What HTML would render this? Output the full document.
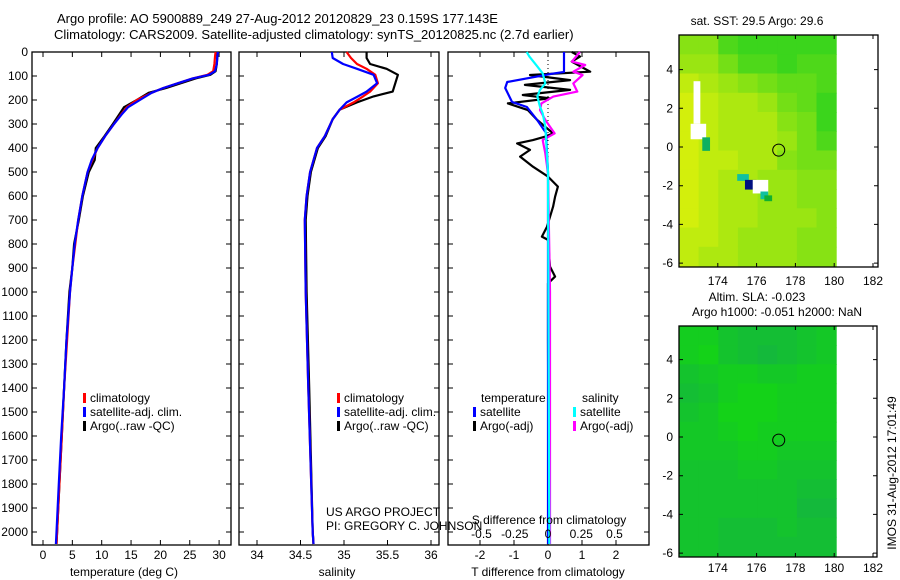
<!DOCTYPE html>
<html><head><meta charset="utf-8"><style>
html,body{margin:0;padding:0;background:#fff;}
svg{display:block;font-family:"Liberation Sans",sans-serif;}
text{font-size:12px;fill:#000;}
</style></head><body>
<svg id="fig" width="900" height="580" viewBox="0 0 900 580" xmlns="http://www.w3.org/2000/svg">
<text x="57" y="23" style="font-size:13px">Argo profile: AO 5900889_249 27-Aug-2012 20120829_23 0.159S 177.143E</text>
<text x="54" y="39" style="font-size:13px">Climatology: CARS2009. Satellite-adjusted climatology: synTS_20120825.nc (2.7d earlier)</text>
<g id="g"></g>
</svg>
<script>
// ---- data ----
const tDepth=[0,20,50,80,95,110,130,150,170,200,230,260,300,350,400,450,500,600,700,800,900,1000,1200,1400,1600,1800,2000,2050];
const tClim=[29.4,29.3,29.2,29.0,28,25.5,23,20.5,18.5,16,14.3,13.3,12.1,10.6,9.3,8.4,7.6,6.7,6.0,5.5,5.0,4.6,4.1,3.6,3.2,2.8,2.4,2.3];
const tSat=[29.8,29.7,29.6,29.3,28.3,25.5,23,20.5,18.5,16.5,14.5,13.4,12.1,10.6,9.3,8.3,7.6,6.7,6.0,5.4,5.0,4.6,4.0,3.6,3.1,2.7,2.3,2.2];
const tArgo=[29.6,29.7,29.6,29.4,28.5,26,23.5,21,18,16,13.8,13,11.9,10.5,9.0,8.8,7.8,6.8,6.1,5.3,5.0,4.5,4.0,3.6,3.2,2.8,2.4,2.3];
const sDepth=[0,25,50,70,95,130,165,185,210,240,280,350,400,500,600,700,1000,1400,2000,2050];
const sClim=[35.03,35.08,35.15,35.26,35.36,35.39,35.30,35.22,35.11,34.95,34.87,34.78,34.69,34.61,34.57,34.55,34.56,34.59,34.64,34.65];
const sSat=[34.86,34.87,34.99,35.15,35.34,35.38,35.26,35.16,35.03,34.95,34.87,34.78,34.69,34.61,34.57,34.55,34.56,34.59,34.64,34.65];
const sArgo=[35.26,35.26,35.30,35.49,35.62,35.59,35.56,35.34,35.15,34.95,34.87,34.79,34.70,34.62,34.58,34.56,34.57,34.60,34.64,34.65];
const dtSatDepth=[0,83,90,125,150,208,229,283,337,500,1000,2050];
const dtSat=[0.47,0.47,0.15,-1.2,-1.26,-1.06,-0.62,-0.32,-0.06,0,0,0];
const dtArgoDepth=[0,19,40,82,96,117,137,158,179,193,214,242,283,339,353,367,381,408,436,478,519,561,603,644,728,769,783,894,936,964,1200,2050];
const dtArgo=[0.7,0.94,0.7,1.24,-0.53,0.65,-0.68,0.65,-0.74,0.06,-1.18,-0.59,-0.32,0.15,-0.09,-0.44,-0.91,-0.53,-0.82,-0.44,0,0.29,0.21,0.15,-0.03,-0.18,0,0.06,0.21,0,0,0.02];
const dsArgoDepth=[0,40,54,82,96,131,165,186,214,242,283,339,367,422,506,1000,2050];
const dsArgo=[0.24,0.18,0.28,0.19,0.26,0.19,0.22,0.04,-0.05,-0.06,-0.02,0.05,-0.04,-0.02,0,0.015,0.015];
const dsSatDepth=[0,19,61,89,131,158,186,228,256,311,500,2050];
const dsSat=[-0.16,-0.14,-0.08,-0.04,-0.02,-0.06,-0.08,-0.06,-0.04,-0.02,0,0.01];
const depthTicks=[0,100,200,300,400,500,600,700,800,900,1000,1100,1200,1300,1400,1500,1600,1700,1800,1900,2000];
const tTicks=[0,5,10,15,20,25,30];
const sTicks=[34,34.5,35,35.5,36];
const dtTicks=[-2,-1,0,1,2];
const dsTicks=[-0.5,-0.25,0,0.25,0.5];
const latTicks=[4,2,0,-2,-4,-6];
const lonTicks=[174,176,178,180,182];
// SST map grid (0=yellow .. 1=green), rows from north to south, 1 deg cells from 172E
const sstGrid=[
[0.5,0.5,0.8,0.9,0.9,0.9,0.9,0.9],
[0.4,0.4,0.6,0.8,0.8,0.9,0.8,0.8],
[0.2,0.3,0.4,0.5,0.6,0.7,0.7,0.8],
[0.1,0.2,0.3,0.3,0.4,0.6,0.7,0.9],
[0.1,0.2,0.3,0.3,0.3,0.5,0.6,0.9],
[0.1,0.2,0.3,0.3,0.3,0.4,0.6,0.8],
[0.1,0.2,0.2,0.3,0.3,0.5,0.6,0.6],
[0.1,0.2,0.3,0.3,0.4,0.4,0.5,0.5],
[0.1,0.2,0.3,0.3,0.4,0.4,0.5,0.5],
[0.1,0.2,0.3,0.3,0.4,0.4,0.4,0.5],
[0.2,0.2,0.3,0.4,0.4,0.4,0.5,0.5],
[0.2,0.3,0.3,0.4,0.4,0.4,0.5,0.5]];
const slaGrid=[
[0.3,0.3,0.5,0.6,0.6,0.6,0.5,0.4],
[0.3,0.2,0.5,0.6,0.7,0.6,0.5,0.4],
[0.5,0.4,0.3,0.3,0.4,0.4,0.3,0.3],
[0.6,0.5,0.3,0.2,0.2,0.3,0.3,0.3],
[0.5,0.4,0.2,0.2,0.2,0.3,0.3,0.3],
[0.4,0.4,0.3,0.2,0.3,0.3,0.3,0.3],
[0.4,0.4,0.4,0.3,0.3,0.4,0.4,0.4],
[0.5,0.5,0.5,0.4,0.4,0.5,0.5,0.5],
[0.5,0.5,0.5,0.5,0.5,0.5,0.6,0.6],
[0.5,0.5,0.5,0.5,0.5,0.5,0.7,0.7],
[0.5,0.5,0.6,0.6,0.6,0.5,0.6,0.6],
[0.5,0.5,0.6,0.6,0.6,0.6,0.6,0.6]];
const argoLon=177.14, argoLat=-0.16;

const NS='http://www.w3.org/2000/svg';
const G=document.getElementById('g');
function el(tag,attrs,parent){const e=document.createElementNS(NS,tag);for(const k in attrs)e.setAttribute(k,attrs[k]);(parent||G).appendChild(e);return e;}
function txt(s,x,y,anchor,extra){const e=el('text',Object.assign({x:x,y:y,'text-anchor':anchor||'start'},extra||{}));e.textContent=s;return e;}

// axes
const yD=d=>52+d*0.24;
const xT=v=>43+v*5.87;
const xS=v=>257+(v-34)*87;
const xDT=v=>548+v*34;
const xDS=v=>548+v*133;
const TOP=52,BOT=545;
const panels=[[32,231],[239,439],[448,649]];

panels.forEach((p,i)=>{
  const r=el('rect',{x:p[0],y:TOP,width:p[1]-p[0],height:BOT-TOP,fill:'none',stroke:'#000','stroke-width':1.3});
  
  
  depthTicks.forEach(d=>{
    const y=yD(d);
    const t=el('path',{d:`M${p[0]},${y}h5M${p[1]},${y}h-5`,stroke:'#000','stroke-width':1});
    
    
  });
});
depthTicks.forEach(d=>{
  const t=txt(String(d),28,yD(d)+4,'end');
  
  
});
function xticks(ticks,fx,labelY,fmt){
  ticks.forEach(v=>{
    const x=fx(v);
    const t=el('path',{d:`M${x},${TOP}v5M${x},${BOT}v-5`,stroke:'#000','stroke-width':1});
    
    
    const l=txt(fmt?fmt(v):String(v),x,labelY,'middle');
    
    
  });
}
xticks(tTicks,xT,559);
xticks(sTicks,xS,559);
xticks(dtTicks,xDT,559);
let a;
a=txt('temperature (deg C)',124,576,'middle');
a=txt('salinity',337,576,'middle');
a=txt('T difference from climatology',548,576,'middle');

function line(depths,vals,fx,color,name,w){
  const pts=depths.map((d,i)=>fx(vals[i]).toFixed(1)+','+yD(Math.min(d,2054)).toFixed(1)).join(' ');
  const p=el('polyline',{points:pts,fill:'none',stroke:color,'stroke-width':w||2.2,'stroke-linejoin':'round'});
  
  
}
line(tDepth,tArgo,xT,'#000','temperature-argo-line');
line(tDepth,tClim,xT,'#f00','temperature-climatology-line');
line(tDepth,tSat,xT,'#00f','temperature-satellite-line');
line(sDepth,sArgo,xS,'#000','salinity-argo-line');
line(sDepth,sClim,xS,'#f00','salinity-climatology-line');
line(sDepth,sSat,xS,'#00f','salinity-satellite-line');
// zero dotted line
a=el('line',{x1:548,y1:TOP,x2:548,y2:BOT,stroke:'#000','stroke-dasharray':'1,3'});
line(dtArgoDepth,dtArgo,xDT,'#000','t-diff-argo-line');
line(dsArgoDepth,dsArgo,xDS,'#f0f','s-diff-argo-line');
line(dtSatDepth,dtSat,xDT,'#00f','t-diff-satellite-line');
line(dsSatDepth,dsSat,xDS,'#0ff','s-diff-satellite-line');

// legends
function legend(x,y,color,label){
  const b=el('rect',{x:x,y:y-9,width:3,height:10,fill:color});
  
  
  const t=txt(label,x+7,y);
  
  
}
legend(83,402,'#f00','climatology');legend(83,416,'#00f','satellite-adj. clim.');legend(83,430,'#000','Argo(..raw -QC)');
legend(337,402,'#f00','climatology');legend(337,416,'#00f','satellite-adj. clim.');legend(337,430,'#000','Argo(..raw -QC)');
a=txt('temperature',481,402);
a=txt('salinity',582,402);
legend(473,416,'#00f','satellite');legend(473,430,'#000','Argo(-adj)');
legend(573,416,'#0ff','satellite');legend(573,430,'#f0f','Argo(-adj)');
a=txt('US ARGO PROJECT',326,516);
a=txt('PI: GREGORY C. JOHNSON',326,530);
a=txt('S difference from climatology',549,524,'middle');
dsTicks.forEach(v=>{const t=txt(String(v),xDS(v),538,'middle');});

// maps
function colSST(v){const c0=[230,242,10],c1=[40,210,30];return `rgb(${c0.map((c,i)=>Math.round(c+(c1[i]-c)*v)).join(',')})`;}
function colSLA(v){const c0=[20,220,10],c1=[20,170,80];return `rgb(${c0.map((c,i)=>Math.round(c+(c1[i]-c)*v)).join(',')})`;}
function map(fx0,fx1,fy0,fy1,lat0y,grid,col,name,labelY){
  // fx0/fx1 frame, lat0y = y of lat 0
  const ppd=19.4;
  const lonX=l=>fx0+(l-172)*ppd;
  const latY=l=>lat0y-l*19.35;
  const top=fy0, dataR=lonX(180.1), dataB=fy1-1;
  const rows=grid.length, cols=grid[0].length;
  const cw=(dataR-fx0)/cols, ch=(dataB-top)/rows;
  grid.forEach((row,r)=>row.forEach((v,c)=>{
    const cell=el('rect',{x:(fx0+c*cw).toFixed(1),y:(top+r*ch).toFixed(1),width:(cw+0.6).toFixed(1),height:(ch+0.6).toFixed(1),fill:col(v)});
    
    
  }));
  const fr=el('rect',{x:fx0,y:fy0,width:fx1-fx0,height:fy1-fy0,fill:'none',stroke:'#000','stroke-width':1.3});
  
  
  latTicks.forEach(l=>{const y=latY(l);
    const t=el('path',{d:`M${fx0},${y}h4M${fx1},${y}h-4`,stroke:'#000'});
    const lb=txt(String(l),fx0-6,y+4,'end');});
  lonTicks.forEach(l=>{const x=lonX(l);
    const t=el('path',{d:`M${x},${fy0}v4M${x},${fy1}v-4`,stroke:'#000'});
    const lb=txt(String(l),x,labelY,'middle');});
  const c=el('circle',{cx:lonX(argoLon),cy:latY(argoLat),r:6,fill:'none',stroke:'#000','stroke-width':1});
  
  
  return {lonX,latY};
}
const m1=map(679,878,35,267,147,sstGrid,colSST,'sst-map',285);
// special patches on SST map
[[172.75,3.4,0.35,2.2,'#fff'],[172.6,1.2,0.8,0.8,'#fff'],[173.2,0.5,0.4,0.7,'#10b060'],[175.0,-1.4,0.6,0.35,'#10c0a0'],[175.4,-1.7,0.6,0.5,'#001080'],[175.8,-1.7,0.8,0.7,'#fff'],[176.2,-2.3,0.4,0.4,'#10c0a0'],[176.4,-2.5,0.4,0.3,'#10b030']].forEach(p=>{
  const r=el('rect',{x:m1.lonX(p[0]),y:m1.latY(p[1]),width:p[2]*19.4,height:p[3]*19.35,fill:p[4]});
  
  
});
a=txt('sat. SST: 29.5 Argo: 29.6',757,25,'middle');
map(679,877,326,557,437,slaGrid,colSLA,'sla-map',572);
a=txt('Altim. SLA: -0.023',757,301,'middle');
a=txt('Argo h1000: -0.051 h2000: NaN',777,316,'middle');
a=txt('IMOS 31-Aug-2012 17:01:49',0,0,'middle',{transform:'translate(896,473) rotate(-90)'});
</script>
</body></html>
